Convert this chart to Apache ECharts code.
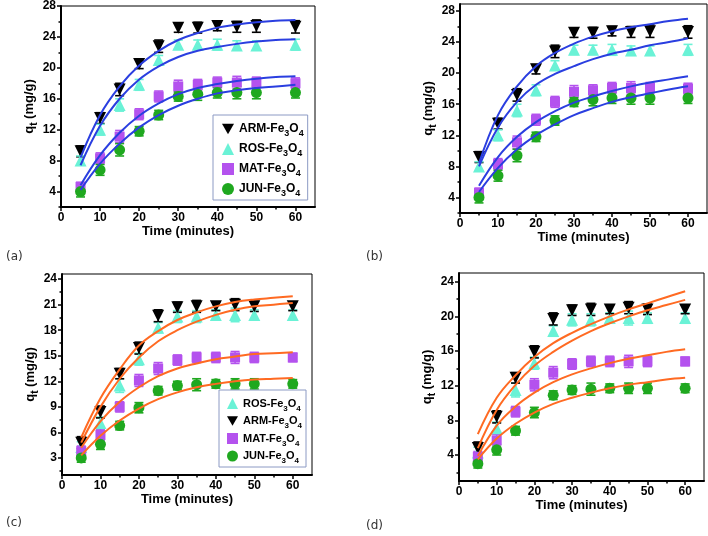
<!DOCTYPE html>
<html>
<head>
<meta charset="utf-8">
<script src="https://cdn.jsdelivr.net/npm/echarts@6/dist/echarts.min.js"></script>
<style>html,body{margin:0;padding:0;background:#fff}#c{width:708px;height:536px}</style>
</head>
<body>
<div id="c"></div>
<script>
// ---------- data ----------
const TIME = [5, 10, 15, 20, 25, 30, 35, 40, 45, 50, 60];
const FIT_T = [5, 10, 15, 20, 25, 30, 35, 40, 45, 50, 55, 60];
const SERIES_NAMES = ['ARM-Fe3O4', 'ROS-Fe3O4', 'MAT-Fe3O4', 'JUN-Fe3O4'];

// panels (a) and (b): experimental data
const ARM_AB = [9.2, 13.5, 17.2, 20.5, 22.8, 25.2, 25.2, 25.4, 25.3, 25.4, 25.3];
const ROS_AB = [8.0, 12.0, 15.2, 17.8, 21.0, 23.0, 23.0, 23.0, 22.9, 22.9, 23.0];
const MAT_AB = [4.6, 8.3, 11.1, 14.0, 16.3, 17.6, 17.8, 18.1, 18.1, 18.1, 18.0];
const JUN_AB = [4.0, 6.8, 9.4, 11.8, 13.9, 16.3, 16.6, 16.8, 16.8, 16.8, 16.8];
const ERR_ARM_AB = [0.7, 0.7, 0.8, 0.6, 0.8, 0.6, 0.7, 0.6, 0.7, 0.8, 0.8];
const ERR_ROS_AB = [0.6, 0.7, 0.8, 0.7, 0.6, 0.6, 0.6, 0.7, 0.6, 0.6, 0.7];
const ERR_MAT_AB = [0.6, 0.7, 0.8, 0.7, 0.7, 0.8, 0.7, 0.7, 0.8, 0.7, 0.7];
const ERR_JUN_AB = [0.7, 0.7, 0.8, 0.6, 0.6, 0.6, 0.8, 0.7, 0.8, 0.8, 0.7];

// panel (a) fits
const FIT_A_ARM = [8.4, 13.9, 17.6, 20.3, 22.2, 23.6, 24.5, 25.2, 25.6, 25.9, 26.1, 26.2];
const FIT_A_ROS = [7.4, 12.5, 16.0, 18.5, 20.2, 21.4, 22.2, 22.7, 23.1, 23.4, 23.6, 23.7];
const FIT_A_MAT = [4.8, 8.7, 11.6, 13.8, 15.4, 16.6, 17.4, 17.9, 18.3, 18.6, 18.8, 18.9];
const FIT_A_JUN = [4.2, 7.6, 10.2, 12.3, 13.9, 15.1, 16.0, 16.7, 17.1, 17.4, 17.6, 17.8];
// panel (b) fits
const FIT_B_ARM = [8.4, 14.6, 18.3, 20.9, 22.6, 23.8, 24.7, 25.4, 25.9, 26.3, 26.7, 27.0];
const FIT_B_ROS = [8.0, 13.0, 16.3, 18.5, 19.9, 20.9, 21.8, 22.5, 23.0, 23.6, 24.0, 24.5];
const FIT_B_MAT = [5.5, 9.2, 11.8, 13.7, 15.1, 16.2, 17.0, 17.7, 18.3, 18.8, 19.2, 19.6];
const FIT_B_JUN = [4.7, 7.8, 10.2, 12.0, 13.4, 14.6, 15.5, 16.3, 16.9, 17.4, 17.9, 18.3];

// panels (c) and (d): experimental data
const ROS_CD = [4.3, 7.1, 11.5, 14.6, 18.3, 19.6, 19.6, 19.8, 19.8, 19.8, 19.8];
const ARM_CD = [4.8, 8.4, 12.9, 15.9, 19.7, 20.7, 20.8, 20.8, 21.0, 20.8, 20.8];
const MAT_CD = [3.8, 5.7, 9.0, 12.1, 13.5, 14.5, 14.8, 14.8, 14.8, 14.8, 14.8];
const JUN_CD = [3.0, 4.6, 6.8, 8.9, 10.9, 11.5, 11.6, 11.7, 11.7, 11.7, 11.7];
const ERR_ROS_CD = [0.6, 0.7, 0.8, 0.7, 0.6, 0.7, 0.7, 0.6, 0.8, 0.6, 0.6];
const ERR_ARM_CD = [0.7, 0.7, 0.6, 0.7, 0.7, 0.6, 0.7, 0.5, 0.7, 0.6, 0.5];
const ERR_MAT_CD = [0.6, 0.7, 0.6, 0.7, 0.7, 0.6, 0.6, 0.6, 0.7, 0.6, 0.5];
const ERR_JUN_CD = [0.5, 0.6, 0.5, 0.6, 0.5, 0.5, 0.7, 0.5, 0.6, 0.6, 0.5];

// panel (c) fits
const FIT_C_ARM = [5.4, 10.0, 13.4, 16.2, 17.9, 19.2, 20.1, 20.8, 21.3, 21.6, 21.8, 22.0];
const FIT_C_ROS = [4.8, 9.0, 12.3, 14.8, 16.7, 18.0, 19.0, 19.8, 20.4, 20.8, 21.0, 21.2];
const FIT_C_MAT = [4.2, 7.3, 9.6, 11.3, 12.6, 13.5, 14.1, 14.6, 14.9, 15.2, 15.3, 15.4];
const FIT_C_JUN = [3.3, 5.6, 7.4, 8.8, 9.9, 10.7, 11.3, 11.7, 12.0, 12.2, 12.3, 12.4];
// panel (d) fits
const FIT_D_ARM = [6.4, 10.6, 13.2, 15.3, 16.9, 18.1, 19.1, 20.0, 20.8, 21.5, 22.2, 22.9];
const FIT_D_ROS = [4.8, 9.2, 12.1, 14.3, 15.9, 17.2, 18.3, 19.2, 20.0, 20.7, 21.3, 21.9];
const FIT_D_MAT = [3.9, 7.4, 9.6, 11.2, 12.4, 13.3, 14.0, 14.6, 15.1, 15.5, 15.9, 16.2];
const FIT_D_JUN = [3.5, 5.9, 7.6, 8.9, 9.9, 10.6, 11.2, 11.7, 12.1, 12.4, 12.7, 12.9];

// tick labels
const X_TICKS = [0, 10, 20, 30, 40, 50, 60];
const X_MINOR = [5, 15, 25, 35, 45, 55];
const Y_TICKS_AB = [4, 8, 12, 16, 20, 24, 28];
const Y_MINOR_AB = [2, 6, 10, 14, 18, 22, 26];
const Y_TICKS_C = [3, 6, 9, 12, 15, 18, 21, 24];
const Y_MINOR_C = [1.5, 4.5, 7.5, 10.5, 13.5, 16.5, 19.5, 22.5];
const Y_TICKS_D = [4, 8, 12, 16, 20, 24];
const Y_MINOR_D = [2, 6, 10, 14, 18, 22];

// ---------- styling ----------
const COLORS = { 'ARM-Fe3O4': '#000000', 'ROS-Fe3O4': '#6af2d6', 'MAT-Fe3O4': '#b452ee', 'JUN-Fe3O4': '#1fa81f' };
const SYMBOLS = {
  'ARM-Fe3O4': { symbol: 'triangle', rotate: 180 },
  'ROS-Fe3O4': { symbol: 'triangle', rotate: 0 },
  'MAT-Fe3O4': { symbol: 'rect', rotate: 0 },
  'JUN-Fe3O4': { symbol: 'circle', rotate: 0 }
};
const LEGEND_ICONS = {
  'ARM-Fe3O4': 'path://M0,0L12,0L6,10.4Z',
  'ROS-Fe3O4': 'triangle',
  'MAT-Fe3O4': 'rect',
  'JUN-Fe3O4': 'circle'
};
const BLUE = '#2a3ee0';
const ORANGE = '#ff6a22';
const FONT = 'Liberation Sans, Arial, sans-serif';

const panels = [
  { grid: { left: 61, top: 6, width: 254, height: 201 }, ymin: 2, ymax: 28, yt: Y_TICKS_AB, ym: Y_MINOR_AB,
    data: { 'ARM-Fe3O4': [ARM_AB, ERR_ARM_AB], 'ROS-Fe3O4': [ROS_AB, ERR_ROS_AB], 'MAT-Fe3O4': [MAT_AB, ERR_MAT_AB], 'JUN-Fe3O4': [JUN_AB, ERR_JUN_AB] },
    fits: [FIT_A_ARM, FIT_A_ROS, FIT_A_MAT, FIT_A_JUN], fitColor: BLUE },
  { grid: { left: 460, top: 4, width: 247, height: 209 }, ymin: 2, ymax: 28.9, yt: Y_TICKS_AB, ym: Y_MINOR_AB,
    data: { 'ARM-Fe3O4': [ARM_AB, ERR_ARM_AB], 'ROS-Fe3O4': [ROS_AB, ERR_ROS_AB], 'MAT-Fe3O4': [MAT_AB, ERR_MAT_AB], 'JUN-Fe3O4': [JUN_AB, ERR_JUN_AB] },
    fits: [FIT_B_ARM, FIT_B_ROS, FIT_B_MAT, FIT_B_JUN], fitColor: BLUE },
  { grid: { left: 62, top: 274, width: 250, height: 201 }, ymin: 1, ymax: 24.6, yt: Y_TICKS_C, ym: Y_MINOR_C,
    data: { 'ROS-Fe3O4': [ROS_CD, ERR_ROS_CD], 'ARM-Fe3O4': [ARM_CD, ERR_ARM_CD], 'MAT-Fe3O4': [MAT_CD, ERR_MAT_CD], 'JUN-Fe3O4': [JUN_CD, ERR_JUN_CD] },
    fits: [FIT_C_ARM, FIT_C_ROS, FIT_C_MAT, FIT_C_JUN], fitColor: ORANGE },
  { grid: { left: 459, top: 273, width: 245, height: 208 }, ymin: 1, ymax: 25, yt: Y_TICKS_D, ym: Y_MINOR_D,
    data: { 'ROS-Fe3O4': [ROS_CD, ERR_ROS_CD], 'ARM-Fe3O4': [ARM_CD, ERR_ARM_CD], 'MAT-Fe3O4': [MAT_CD, ERR_MAT_CD], 'JUN-Fe3O4': [JUN_CD, ERR_JUN_CD] },
    fits: [FIT_D_ARM, FIT_D_ROS, FIT_D_MAT, FIT_D_JUN], fitColor: ORANGE }
];

function makeRich(size, lh) {
  return {
    n: { fontFamily: FONT, fontWeight: 'bold', fontSize: size, lineHeight: lh, color: '#000' },
    s: { fontFamily: FONT, fontWeight: 'bold', fontSize: Math.round(size * 0.77), lineHeight: 10, verticalAlign: 'bottom', color: '#000' }
  };
}
const subRich = makeRich(13, 18);
function chemLabel(name) {
  const base = name.replace('Fe3O4', '');
  return '{n|' + base + 'Fe}{s|3}{n|O}{s|4}';
}

const grids = [], xAxes = [], yAxes = [], series = [];
panels.forEach((p, i) => {
  grids.push(Object.assign({ show: true, borderColor: '#000', borderWidth: 1, backgroundColor: 'transparent' }, p.grid));
  xAxes.push({
    type: 'value', gridIndex: i, min: 0, max: 65, position: 'bottom',
    name: 'Time (minutes)', nameLocation: 'middle', nameGap: 17,
    nameTextStyle: { fontFamily: FONT, fontWeight: 'bold', fontSize: 13, color: '#000' },
    axisLine: { show: true, onZero: false, lineStyle: { color: '#000', width: 2 } },
    axisTick: { show: true, length: 4, customValues: X_TICKS, lineStyle: { color: '#000', width: 1.5 } },
    axisLabel: { customValues: X_TICKS, margin: 5, fontFamily: FONT, fontWeight: 'bold', fontSize: 12, color: '#000' },
    splitLine: { show: false }
  });
  xAxes.push({
    type: 'value', gridIndex: i, min: 0, max: 65, position: 'bottom',
    axisLine: { show: false, onZero: false },
    axisTick: { show: true, length: 2.5, customValues: X_MINOR, lineStyle: { color: '#000', width: 1.5 } },
    axisLabel: { show: false }, splitLine: { show: false }
  });
  yAxes.push({
    type: 'value', gridIndex: i, min: p.ymin, max: p.ymax, position: 'left',
    name: '{n|q}{s|t}{n| (mg/g)}', nameLocation: 'middle', nameGap: 20, nameRotate: 90,
    nameTextStyle: { rich: subRich },
    axisLine: { show: true, onZero: false, lineStyle: { color: '#000', width: 2 } },
    axisTick: { show: true, length: 4, customValues: p.yt, lineStyle: { color: '#000', width: 1.5 } },
    axisLabel: { customValues: p.yt, margin: 5, fontFamily: FONT, fontWeight: 'bold', fontSize: 12, color: '#000' },
    splitLine: { show: false }
  });
  yAxes.push({
    type: 'value', gridIndex: i, min: p.ymin, max: p.ymax, position: 'left',
    axisLine: { show: false, onZero: false },
    axisTick: { show: true, length: 2.5, customValues: p.ym, lineStyle: { color: '#000', width: 1.5 } },
    axisLabel: { show: false }, splitLine: { show: false }
  });

  Object.keys(p.data).forEach(name => {
    const [vals, errs] = p.data[name];
    const col = COLORS[name];
    series.push({
      type: 'custom', name: name + ' err', xAxisIndex: 2 * i, yAxisIndex: 2 * i, z: 1, silent: true,
      data: TIME.map((t, k) => [t, vals[k], errs[k]]),
      renderItem: function (params, api) {
        const x = api.value(0), y = api.value(1), e = api.value(2);
        const top = api.coord([x, y + e]);
        const bot = api.coord([x, y - e]);
        const w = 4.5;
        const st = { stroke: col, lineWidth: 1.6 };
        return { type: 'group', children: [
          { type: 'line', shape: { x1: top[0], y1: top[1], x2: bot[0], y2: bot[1] }, style: st },
          { type: 'line', shape: { x1: top[0] - w, y1: top[1], x2: top[0] + w, y2: top[1] }, style: st },
          { type: 'line', shape: { x1: bot[0] - w, y1: bot[1], x2: bot[0] + w, y2: bot[1] }, style: st }
        ] };
      }
    });
    series.push({
      type: 'scatter', name: name, xAxisIndex: 2 * i, yAxisIndex: 2 * i, z: 2,
      symbol: SYMBOLS[name].symbol, symbolRotate: SYMBOLS[name].rotate,
      symbolSize: SYMBOLS[name].symbol === 'rect' ? 10 : (SYMBOLS[name].symbol === 'circle' ? 11 : 12),
      itemStyle: { color: col, opacity: 1 },
      data: TIME.map((t, k) => [t, vals[k]])
    });
  });
  p.fits.forEach((f, k) => {
    series.push({
      type: 'line', name: 'fit' + i + '_' + k, xAxisIndex: 2 * i, yAxisIndex: 2 * i, z: 3,
      smooth: 0.4, showSymbol: false, silent: true,
      lineStyle: { color: p.fitColor, width: 2 },
      data: FIT_T.map((t, j) => [t, f[j]])
    });
  });
});

const legendCommon = {
  orient: 'vertical', itemWidth: 12, itemHeight: 12,
  borderColor: '#8c9ac4', borderWidth: 1, backgroundColor: '#fff',
  formatter: chemLabel, selectedMode: false
};
function legendData(order) {
  return order.map(n => ({ name: n, icon: LEGEND_ICONS[n] }));
}

const option = {
  animation: false,
  backgroundColor: '#fff',
  grid: grids, xAxis: xAxes, yAxis: yAxes, series: series,
  legend: [
    Object.assign({}, legendCommon, { left: 213, top: 115, padding: [8, 4, 2, 9], itemGap: 5, itemWidth: 12,
      textStyle: { rich: makeRich(12, 18) },
      data: legendData(['ARM-Fe3O4', 'ROS-Fe3O4', 'MAT-Fe3O4', 'JUN-Fe3O4']) }),
    Object.assign({}, legendCommon, { left: 219, top: 390, padding: [8, 4, 2, 8], itemGap: 3, itemWidth: 11, itemHeight: 11,
      textStyle: { rich: makeRich(11, 18) },
      data: legendData(['ROS-Fe3O4', 'ARM-Fe3O4', 'MAT-Fe3O4', 'JUN-Fe3O4']) })
  ],
  graphic: [
    { type: 'text', left: 6, top: 251, style: { text: '(a)', font: '12px DejaVu Sans', fill: '#333' } },
    { type: 'text', left: 366, top: 251, style: { text: '(b)', font: '12px DejaVu Sans', fill: '#333' } },
    { type: 'text', left: 6, top: 517, style: { text: '(c)', font: '12px DejaVu Sans', fill: '#333' } },
    { type: 'text', left: 366, top: 520, style: { text: '(d)', font: '12px DejaVu Sans', fill: '#333' } }
  ]
};

const chart = echarts.init(document.getElementById('c'), null, { renderer: 'canvas' });
chart.setOption(option);
</script>
</body>
</html>
